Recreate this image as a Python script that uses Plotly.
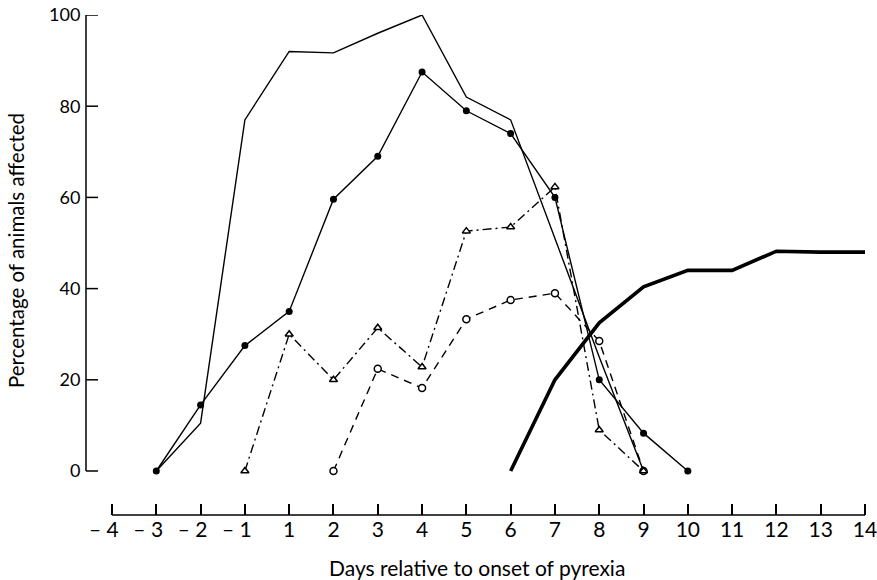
import plotly.graph_objects as go

# Day labels (there is no day 0 on this axis)
day_labels = ["– 4", "– 3", "– 2", "– 1", "1", "2", "3", "4", "5", "6", "7", "8", "9", "10", "11", "12", "13", "14"]
days_all = [-4, -3, -2, -1, 1, 2, 3, 4, 5, 6, 7, 8, 9, 10, 11, 12, 13, 14]
y_ticks = [0, 20, 40, 60, 80, 100]

# Series (day, percentage)
top_days = [-3, -2, -1, 1, 2, 3, 4, 5, 6, 7, 8, 9]
top_vals = [0, 10.5, 77, 92, 91.7, 96, 100, 82, 77, 51, 25, 0]

fill_days = [-3, -2, -1, 1, 2, 3, 4, 5, 6, 7, 8, 9, 10]
fill_vals = [0, 14.5, 27.5, 35, 59.6, 69, 87.5, 79, 74, 60, 20, 8.3, 0]

tri_days = [-1, 1, 2, 3, 4, 5, 6, 7, 8, 9]
tri_vals = [0, 30, 20, 31.4, 22.8, 52.6, 53.5, 62.3, 9, 0]

open_days = [2, 3, 4, 5, 6, 7, 8, 9]
open_vals = [0, 22.4, 18.2, 33.3, 37.5, 39, 28.5, 0]

thick_days = [6, 7, 8, 9, 10, 11, 12, 13, 14]
thick_vals = [0, 20, 32.5, 40.4, 44, 44, 48.2, 48, 48]

x_title = "Days relative to onset of pyrexia"
y_title = "Percentage of animals affected"


def pos(d):
    # axis has no day 0: negative days keep their value, positive days shift by one
    return d if d < 0 else d - 1


def P(ds):
    return [pos(d) for d in ds]


def xlabel(t):
    # keep the digit under its tick: pad negative labels on the right
    return t + "\u00a0\u00a0\u00a0" if t.startswith("–") else t


W, H = 877, 580
L, R, T, B = 86, 7, 15, 65
pw = W - L - R
ph = H - T - B
x0px, x1px = 112, 865
upx = (x1px - x0px) / 17.0
r0 = -4 - (x0px - L) / upx
r1 = 13 + (L + pw - x1px) / upx
y100, y0p, ybot = 15, 471, H - B
ppu = (y0p - y100) / 100.0
yr0 = -(ybot - y0p) / ppu
YTICK_LEN = 12

FONT = "Lato, 'Open Sans', sans-serif"

fig = go.Figure()

common = dict(cliponaxis=False, hoverinfo="skip")
fig.add_trace(go.Scatter(x=P(top_days), y=top_vals, mode="lines",
                         line=dict(color="black", width=1.4), **common))
fig.add_trace(go.Scatter(x=P(thick_days), y=thick_vals, mode="lines",
                         line=dict(color="black", width=3.6), **common))
fig.add_trace(go.Scatter(x=P(open_days), y=open_vals, mode="lines+markers",
                         line=dict(color="black", width=1.4, dash="8px,6px"),
                         marker=dict(symbol="circle", size=7, color="white",
                                     line=dict(color="black", width=1.5)),
                         **common))
fig.add_trace(go.Scatter(x=P(tri_days), y=tri_vals, mode="lines+markers",
                         line=dict(color="black", width=1.4, dash="9px,4px,2px,4px"),
                         marker=dict(symbol="triangle-up", size=7, color="white",
                                     line=dict(color="black", width=1.5)),
                         **common))
fig.add_trace(go.Scatter(x=P(fill_days), y=fill_vals, mode="lines+markers",
                         line=dict(color="black", width=1.4),
                         marker=dict(symbol="circle", size=7, color="black"),
                         **common))

# Axis lines limited to the labelled spans (x: -4..14, y: 0..100), plus y tick marks
shapes = [
    dict(type="line", xref="x", yref="paper", x0=pos(days_all[0]), x1=pos(days_all[-1]),
         y0=0, y1=0, line=dict(color="black", width=1.5), layer="above"),
    dict(type="line", xref="paper", yref="y", x0=0, x1=0,
         y0=y_ticks[0], y1=y_ticks[-1], line=dict(color="black", width=1.5), layer="above"),
]
for v in y_ticks:
    shapes.append(dict(type="line", xref="paper", yref="y", x0=0, x1=YTICK_LEN / pw,
                       y0=v, y1=v, line=dict(color="black", width=1.5), layer="above"))

fig.update_layout(
    width=W, height=H,
    margin=dict(l=L, r=R, t=T, b=B, autoexpand=False),
    paper_bgcolor="white", plot_bgcolor="white",
    showlegend=False,
    font=dict(family=FONT, color="black"),
    xaxis=dict(
        domain=[0, 1], range=[r0, r1],
        tickmode="array", tickvals=[pos(d) for d in days_all],
        ticktext=[xlabel(t) for t in day_labels], tickangle=0,
        ticks="inside", ticklen=11, tickwidth=1.5, tickcolor="black",
        showline=False, showgrid=False, zeroline=False,
        tickfont=dict(size=21, family=FONT),
        ticklabeloverflow="allow",
        automargin=False,
    ),
    yaxis=dict(
        domain=[0, 1], range=[yr0, 100],
        tickmode="array", tickvals=y_ticks, ticktext=[str(v) + "\u00a0" for v in y_ticks],
        ticks="", showline=False, showgrid=False, zeroline=False,
        tickfont=dict(size=18, family=FONT),
        ticklabeloverflow="allow",
        automargin=False,
    ),
    shapes=shapes,
    annotations=[
        dict(text=x_title, xref="paper", yref="paper",
             x=(477 - L) / pw, y=-(567 - (H - B)) / ph,
             xanchor="center", yanchor="middle", showarrow=False,
             font=dict(size=21, family=FONT)),
        dict(text=y_title, xref="paper", yref="paper",
             x=-(L - 16) / pw, y=(H - B - 251) / ph,
             xanchor="center", yanchor="middle", showarrow=False, textangle=-90,
             font=dict(size=20.5, family=FONT)),
    ],
)

fig.write_html("out.html")
